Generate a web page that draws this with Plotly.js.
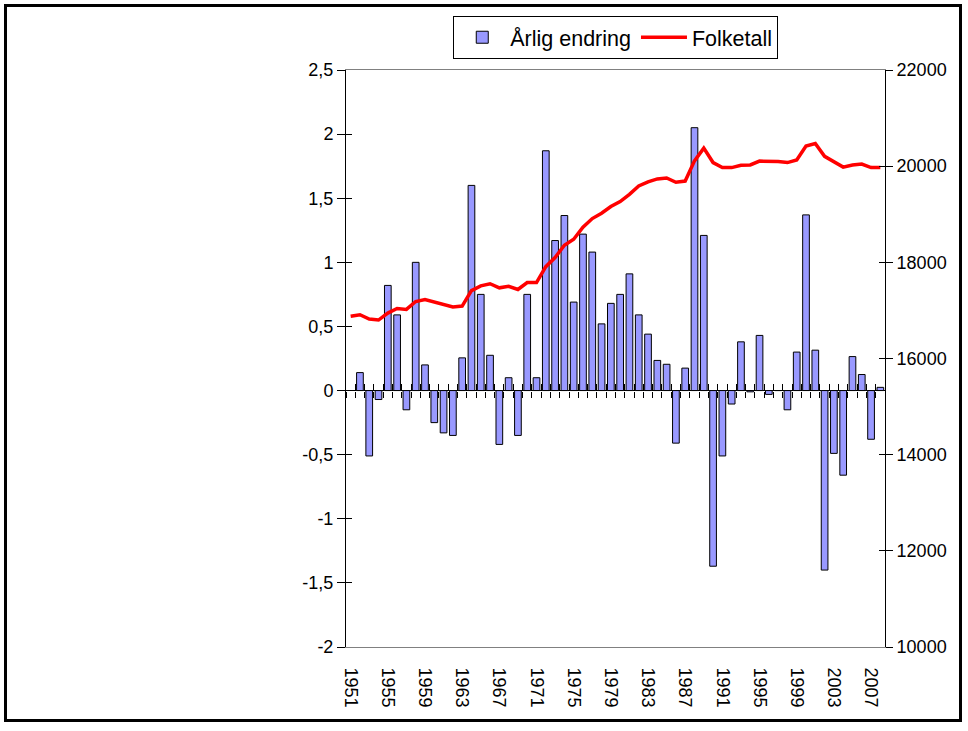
<!DOCTYPE html>
<html>
<head>
<meta charset="utf-8">
<script src="https://cdn.plot.ly/plotly-3.0.1.min.js"></script>
<style>
  html, body { margin: 0; padding: 0; background: #fff; }
  #chart { width: 968px; height: 731px; position: relative; }
  #frame { position: absolute; left: 4px; top: 4px; width: 952px; height: 712px;
           border: 3px solid #000; pointer-events: none; }
</style>
</head>
<body>
<div id="chart"></div>
<div id="frame"></div>
<script>
var years = [];
for (var yr = 1951; yr <= 2008; yr++) years.push(String(yr));

// Årlig endring (%), left axis
var change = [null, 0.14, -0.51, -0.07, 0.82, 0.59, -0.15, 1.00, 0.20, -0.25,
  -0.33, -0.35, 0.255, 1.60, 0.75, 0.275, -0.42, 0.10, -0.35, 0.75,
  0.10, 1.87, 1.17, 1.365, 0.69, 1.22, 1.08, 0.52, 0.68, 0.75,
  0.91, 0.59, 0.44, 0.235, 0.205, -0.41, 0.175, 2.05, 1.21, -1.37,
  -0.51, -0.105, 0.38, -0.01, 0.43, -0.03, 0, -0.15, 0.30, 1.37,
  0.315, -1.40, -0.49, -0.66, 0.265, 0.125, -0.38, 0.025];

// Folketall, right axis
var population = [16880, 16910, 16820, 16800, 16945, 17040, 17020, 17185, 17225, 17175,
  17115, 17070, 17090, 17410, 17510, 17555, 17470, 17500, 17435, 17580,
  17580, 17910, 18100, 18355, 18480, 18730, 18910, 19020, 19160, 19265,
  19415, 19590, 19675, 19735, 19755, 19665, 19690, 20110, 20375, 20075,
  19970, 19970, 20020, 20025, 20105, 20105, 20095, 20075, 20130, 20420,
  20470, 20205, 20095, 19980, 20025, 20045, 19970, 19970];

var leftTickVals = [-2, -1.5, -1, -0.5, 0, 0.5, 1, 1.5, 2, 2.5];
var leftTickText = ["-2", "-1,5", "-1", "-0,5", "0", "0,5", "1", "1,5", "2", "2,5"];
var rightTickVals = [10000, 12000, 14000, 16000, 18000, 20000, 22000];
var rightTickText = ["10000", "12000", "14000", "16000", "18000", "20000", "22000"];

var leftRange = [-2, 2.5];
var rightRange = [10000, 22000];
var catRange = [-0.5, years.length - 0.5];
var zeroPos = (0 - leftRange[0]) / (leftRange[1] - leftRange[0]);

var font = "Liberation Sans, Arial, sans-serif";

function axisHolder(xa, ya) {
  return { type: "scatter", mode: "lines", x: [], y: [], xaxis: xa, yaxis: ya,
           showlegend: false, hoverinfo: "skip" };
}

var traces = [
  {
    type: "bar", name: "Årlig endring", x: years, y: change,
    xaxis: "x", yaxis: "y",
    marker: { color: "#9999ff", line: { color: "#000000", width: 1 } },
    hoverinfo: "x+y"
  },
  {
    type: "scatter", mode: "lines", name: "Folketall", x: years, y: population,
    xaxis: "x", yaxis: "y2",
    line: { color: "#ff0000", width: 3.5 },
    hoverinfo: "x+y"
  },
  axisHolder("x2", "y"),
  axisHolder("x3", "y"),
  axisHolder("x", "y3"),
  axisHolder("x", "y4")
];

var layout = {
  width: 968, height: 731,
  margin: { l: 346, r: 83, t: 70, b: 83.5, pad: 0 },
  paper_bgcolor: "#ffffff", plot_bgcolor: "#ffffff",
  font: { family: font, size: 18, color: "#000000" },
  bargap: 0.28,
  showlegend: true,
  legend: {
    orientation: "h", x: 0.199, y: 1.094, xanchor: "left", yanchor: "top",
    font: { family: font, size: 21.5, color: "#000" },
    bordercolor: "#000000", borderwidth: 1, bgcolor: "#ffffff",
    traceorder: "normal", itemwidth: 46, tracegroupgap: 0
  },
  xaxis: {
    type: "category", range: catRange, anchor: "y",
    dtick: 4, tickangle: 90,
    ticks: "outside", ticklen: 16, tickcolor: "rgba(0,0,0,0)",
    showline: true, linecolor: "#808080", linewidth: 1, mirror: true,
    showgrid: false, zeroline: false,
    tickfont: { family: font, size: 18, color: "#000" }
  },
  xaxis2: {
    overlaying: "x", anchor: "free", position: zeroPos,
    type: "linear", range: catRange, tick0: -0.5, dtick: 1,
    ticks: "outside", ticklen: 6, tickcolor: "#000", tickwidth: 1,
    showticklabels: false, showline: false, showgrid: false, zeroline: false
  },
  xaxis3: {
    overlaying: "x", anchor: "free", position: zeroPos,
    type: "linear", range: catRange, tick0: -0.5, dtick: 1,
    ticks: "inside", ticklen: 7, tickcolor: "#000", tickwidth: 1,
    showticklabels: false, showline: false, showgrid: false, zeroline: false
  },
  yaxis: {
    range: leftRange, tickvals: leftTickVals, ticktext: leftTickText,
    ticks: "outside", ticklen: 8, tickcolor: "#000",
    showline: true, linecolor: "#000", linewidth: 1,
    showgrid: false, zeroline: true, zerolinecolor: "#000", zerolinewidth: 1,
    tickfont: { family: font, size: 18, color: "#000" }
  },
  yaxis3: {
    overlaying: "y", anchor: "x", side: "left",
    range: leftRange, tickvals: leftTickVals,
    ticks: "inside", ticklen: 6, tickcolor: "#000",
    showticklabels: false, showline: false, showgrid: false, zeroline: false
  },
  yaxis2: {
    overlaying: "y", anchor: "x", side: "right",
    range: rightRange, tickvals: rightTickVals, ticktext: rightTickText,
    ticks: "outside", ticklen: 7, tickcolor: "#000",
    showline: true, linecolor: "#000", linewidth: 1,
    showgrid: false, zeroline: false,
    tickfont: { family: font, size: 18, color: "#000" }
  },
  yaxis4: {
    overlaying: "y", anchor: "x", side: "right",
    range: rightRange, tickvals: rightTickVals,
    ticks: "inside", ticklen: 6, tickcolor: "#000",
    showticklabels: false, showline: false, showgrid: false, zeroline: false
  }
};

Plotly.newPlot("chart", traces, layout, { displayModeBar: false, staticPlot: true });
</script>
</body>
</html>
